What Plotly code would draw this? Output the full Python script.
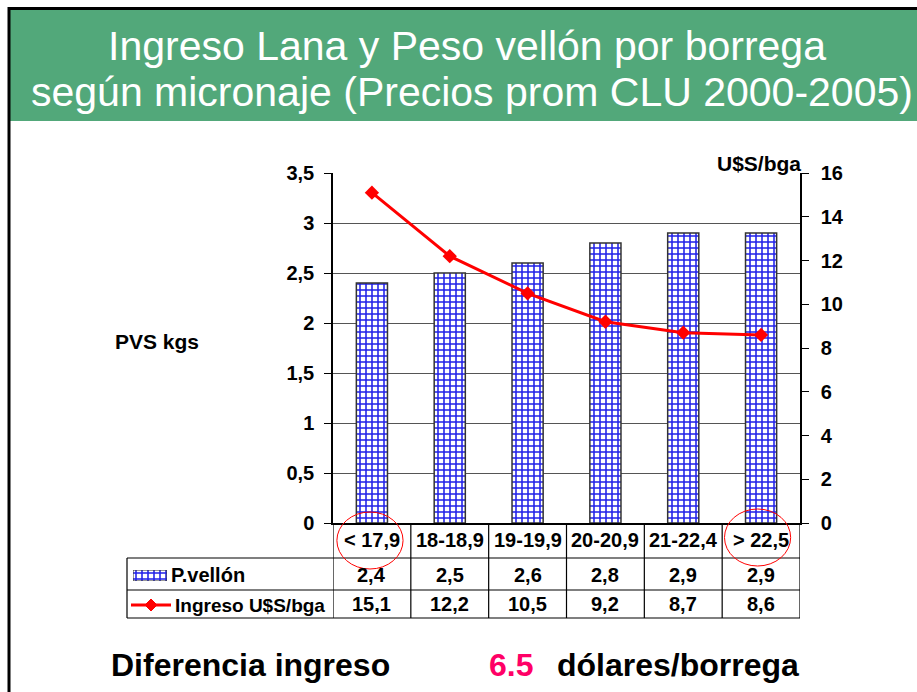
import plotly.graph_objects as go

W, H = 917, 692
def px(x): return x / W
def py(y): return 1 - y / H

categories = ["< 17,9", "18-18,9", "19-19,9", "20-20,9", "21-22,4", "> 22,5"]
vellon = [2.4, 2.5, 2.6, 2.8, 2.9, 2.9]
ingreso = [15.1, 12.2, 10.5, 9.2, 8.7, 8.6]
left_ticks = [0, 0.5, 1, 1.5, 2, 2.5, 3, 3.5]
left_ticktext = ["0", "0,5", "1", "1,5", "2", "2,5", "3", "3,5"]
right_ticks = [0, 2, 4, 6, 8, 10, 12, 14, 16]

def fmt(v):
    return f"{v:.1f}".replace(".", ",")

xs = list(range(len(categories)))
BOLD = dict(family="Liberation Sans, Arial, sans-serif", color="black", weight="bold")
PATTERN = dict(shape="+", fgcolor="#2020E8", bgcolor="white", size=6, solidity=0.45, fgopacity=1)

fig = go.Figure()
fig.add_trace(go.Bar(
    x=xs, y=vellon, width=0.4, name="P.vellón",
    marker=dict(color="white", line=dict(color="#333333", width=1.5), pattern=PATTERN),
    xaxis="x", yaxis="y"))
fig.add_trace(go.Scatter(
    x=xs, y=ingreso, mode="lines+markers", name="Ingreso U$S/bga",
    line=dict(color="#FF0000", width=3),
    marker=dict(symbol="diamond", size=11, color="#FF0000"),
    xaxis="x", yaxis="y2"))
# legend key for bars (table)
fig.add_trace(go.Bar(
    x=[0], y=[1], width=1,
    marker=dict(color="white", line=dict(color="#333333", width=1), pattern=PATTERN),
    xaxis="x3", yaxis="y3", hoverinfo="skip"))

fig.update_layout(
    width=W, height=H, autosize=False, showlegend=False,
    margin=dict(l=0, r=0, t=0, b=0, pad=0, autoexpand=False),
    paper_bgcolor="white", plot_bgcolor="rgba(0,0,0,0)",
    xaxis=dict(domain=[px(333), px(800)], range=[-0.5, 5.5], showticklabels=False,
               showgrid=False, zeroline=False, showline=True, linecolor="black", linewidth=1.5,
               ticks="", fixedrange=True, automargin=False),
    yaxis=dict(domain=[py(523), py(173)], range=[0, 3.5], tickvals=left_ticks, ticktext=left_ticktext,
               showgrid=True, gridcolor="#555555", gridwidth=1, zeroline=False,
               showline=True, linecolor="black", linewidth=1.5, automargin=False,
               ticks="outside", ticklen=7, tickcolor="black", tickfont=dict(size=20, **BOLD),
               ticklabelstandoff=6),
    yaxis2=dict(overlaying="y", side="right", range=[0, 16], tickvals=right_ticks,
                showgrid=False, zeroline=False, showline=True, linecolor="black", linewidth=1.5,
                ticks="outside", ticklen=7, tickcolor="black", tickfont=dict(size=20, **BOLD),
                ticklabelstandoff=8, anchor="x", automargin=False),
    xaxis3=dict(domain=[px(133), px(167)], range=[-0.5, 0.5], visible=False, fixedrange=True),
    yaxis3=dict(domain=[py(581), py(570)], range=[0, 1], visible=False, fixedrange=True),
)

shapes = []
# slide border and banner
shapes.append(dict(type="rect", xref="paper", yref="paper", x0=px(10), x1=1, y0=py(121), y1=py(10),
                   fillcolor="#52A87A", line=dict(width=0), layer="below"))
shapes.append(dict(type="line", xref="paper", yref="paper", x0=px(8), x1=1, y0=py(8.5), y1=py(8.5),
                   line=dict(color="black", width=3)))
shapes.append(dict(type="line", xref="paper", yref="paper", x0=px(9), x1=px(9), y0=py(7), y1=0,
                   line=dict(color="black", width=3)))
# table lines
for yy in [558, 590, 618]:
    shapes.append(dict(type="line", xref="paper", yref="paper", x0=px(127), x1=px(800), y0=py(yy), y1=py(yy),
                       line=dict(color="black", width=1.2)))
shapes.append(dict(type="line", xref="paper", yref="paper", x0=px(127), x1=px(127), y0=py(558), y1=py(618),
                   line=dict(color="black", width=1.2)))
for i in range(len(categories) + 1):
    shapes.append(dict(type="line", xref="x", yref="paper", x0=i - 0.5, x1=i - 0.5, y0=py(523), y1=py(618),
                       line=dict(color="black", width=1.2)))
# red ellipses
shapes.append(dict(type="circle", xref="x", yref="paper", x0=-0.45, x1=0.40, y0=py(569), y1=py(512),
                   line=dict(color="#FF0000", width=1)))
shapes.append(dict(type="circle", xref="x", yref="paper", x0=4.53, x1=5.38, y0=py(566), y1=py(509),
                   line=dict(color="#FF0000", width=1)))
# line legend key
shapes.append(dict(type="line", xref="paper", yref="paper", x0=px(131), x1=px(171), y0=py(605), y1=py(605),
                   line=dict(color="#FF0000", width=3)))
cx, cy, d = 151, 605, 6
shapes.append(dict(type="path", xref="paper", yref="paper",
                   path=f"M {px(cx-d)} {py(cy)} L {px(cx)} {py(cy-d)} L {px(cx+d)} {py(cy)} L {px(cx)} {py(cy+d)} Z",
                   fillcolor="#FF0000", line=dict(color="#FF0000", width=1)))
fig.update_layout(shapes=shapes)

ann = []
TITLE_FONT = dict(family="Liberation Sans, Arial, sans-serif", size=41, color="white")
ann.append(dict(text="Ingreso Lana y Peso vellón por borrega", x=px(467), y=py(46), xref="paper", yref="paper",
                showarrow=False, font=TITLE_FONT, xanchor="center", yanchor="middle"))
ann.append(dict(text="según micronaje (Precios prom CLU 2000-2005)", x=px(472), y=py(92), xref="paper", yref="paper",
                showarrow=False, font=TITLE_FONT, xanchor="center", yanchor="middle"))
ann.append(dict(text="PVS kgs", x=px(113), y=py(341), xref="paper", yref="paper", showarrow=False,
                font=dict(size=21, **BOLD), xanchor="left", yanchor="middle"))
ann.append(dict(text="U$S/bga", x=px(803), y=py(163), xref="paper", yref="paper", showarrow=False,
                font=dict(size=21, **BOLD), xanchor="right", yanchor="middle"))
for i, c in enumerate(categories):
    ann.append(dict(text=c, x=i, y=py(540), xref="x", yref="paper", showarrow=False,
                    font=dict(size=20, **BOLD), xanchor="center", yanchor="middle"))
    ann.append(dict(text=fmt(vellon[i]), x=i, y=py(575), xref="x", yref="paper", showarrow=False,
                    font=dict(size=20, **BOLD), xanchor="center", yanchor="middle"))
    ann.append(dict(text=fmt(ingreso[i]), x=i, y=py(604), xref="x", yref="paper", showarrow=False,
                    font=dict(size=20, **BOLD), xanchor="center", yanchor="middle"))
ann.append(dict(text="P.vellón", x=px(169), y=py(575), xref="paper", yref="paper", showarrow=False,
                font=dict(size=20, **BOLD), xanchor="left", yanchor="middle"))
ann.append(dict(text="Ingreso U$S/bga", x=px(173), y=py(605), xref="paper", yref="paper", showarrow=False,
                font=dict(size=19, **BOLD), xanchor="left", yanchor="middle"))
BOTTOM = dict(family="Liberation Sans, Arial, sans-serif", size=32, weight="bold")
ann.append(dict(text="Diferencia ingreso", x=px(109), y=py(665), xref="paper", yref="paper", showarrow=False,
                font=dict(color="black", **BOTTOM), xanchor="left", yanchor="middle"))
ann.append(dict(text="6.5", x=px(487), y=py(665), xref="paper", yref="paper", showarrow=False,
                font=dict(color="#FF0066", **BOTTOM), xanchor="left", yanchor="middle"))
ann.append(dict(text="dólares/borrega", x=px(555), y=py(665), xref="paper", yref="paper", showarrow=False,
                font=dict(color="black", **BOTTOM), xanchor="left", yanchor="middle"))
fig.update_layout(annotations=ann)

fig.write_html("out.html", config={"responsive": False, "displayModeBar": False},
               post_script="document.body.style.margin='0px';document.body.style.overflow='hidden';")
